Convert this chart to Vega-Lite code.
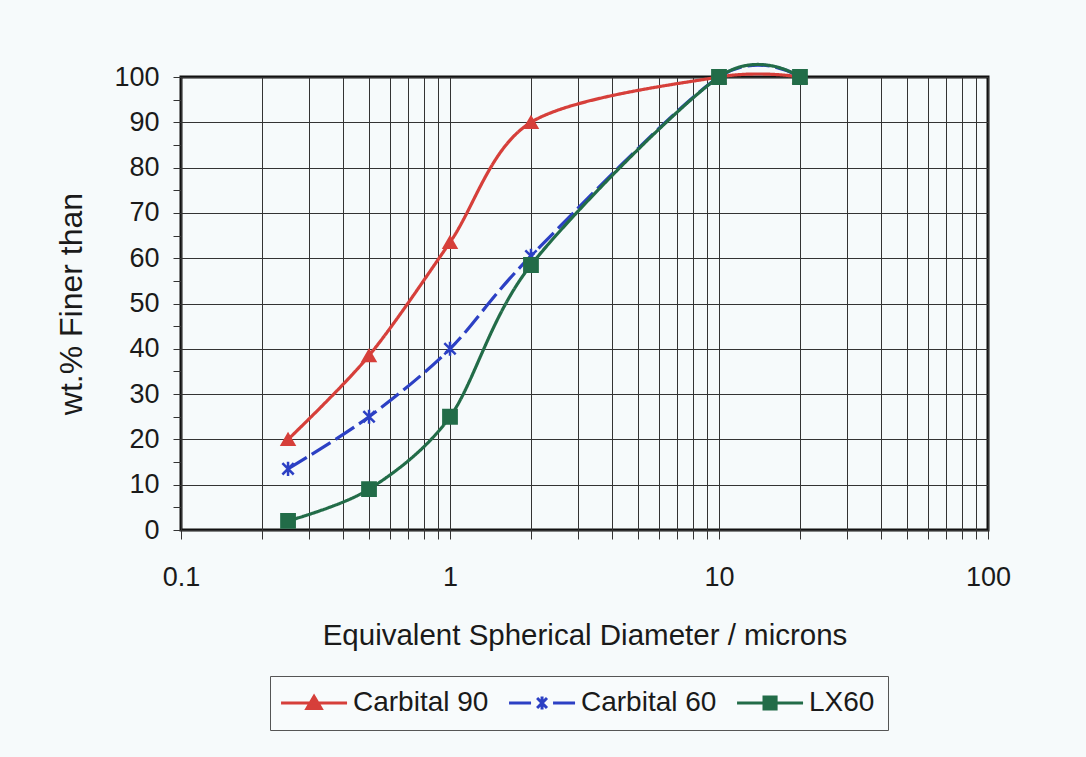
{
  "$schema": "https://vega.github.io/schema/vega-lite/v6.json",
  "width": 807,
  "height": 453,
  "autosize": {"type": "none"},
  "padding": {"left": 181, "top": 77, "right": 98, "bottom": 227},
  "background": "#f6fafb",
  "config": {
    "font": "Liberation Sans",
    "view": {"stroke": "#111111", "strokeWidth": 3},
    "axis": {"labelFont": "Liberation Sans", "titleFont": "Liberation Sans", "labelColor": "#1a1a1a", "titleColor": "#1a1a1a", "titleFontWeight": "normal"}
  },
  "data": {
    "values": [
      {"series": "Carbital 90", "d": 0.25, "pct": 20},
      {"series": "Carbital 90", "d": 0.5, "pct": 38.5},
      {"series": "Carbital 90", "d": 1, "pct": 63.5},
      {"series": "Carbital 90", "d": 2, "pct": 90},
      {"series": "Carbital 90", "d": 10, "pct": 100},
      {"series": "Carbital 90", "d": 20, "pct": 100},
      {"series": "Carbital 60", "d": 0.25, "pct": 13.5},
      {"series": "Carbital 60", "d": 0.5, "pct": 25},
      {"series": "Carbital 60", "d": 1, "pct": 40},
      {"series": "Carbital 60", "d": 2, "pct": 60.5},
      {"series": "Carbital 60", "d": 10, "pct": 100},
      {"series": "Carbital 60", "d": 20, "pct": 100},
      {"series": "LX60", "d": 0.25, "pct": 2},
      {"series": "LX60", "d": 0.5, "pct": 9},
      {"series": "LX60", "d": 1, "pct": 25},
      {"series": "LX60", "d": 2, "pct": 58.5},
      {"series": "LX60", "d": 10, "pct": 100},
      {"series": "LX60", "d": 20, "pct": 100}
    ]
  },
  "encoding": {
    "x": {
      "field": "d",
      "type": "quantitative",
      "scale": {"type": "log", "domain": [0.1, 100]},
      "axis": {
        "values": [0.1, 0.2, 0.3, 0.4, 0.5, 0.6, 0.7, 0.8, 0.9, 1, 2, 3, 4, 5, 6, 7, 8, 9, 10, 20, 30, 40, 50, 60, 70, 80, 90, 100],
        "format": "~g",
        "labelExpr": "indexof(['0.1','1','10','100'], datum.label) >= 0 ? datum.label : ''",
        "labelOverlap": false,
        "labelFlush": false,
        "labelFontSize": 27,
        "labelPadding": 25,
        "labelBaseline": "top",
        "grid": true,
        "gridColor": "#333333",
        "gridWidth": 1,
        "gridOpacity": 1,
        "tickSize": 9,
        "tickColor": "#333333",
        "domain": false,
        "title": "Equivalent Spherical Diameter / microns",
        "titleFontSize": 29.5,
        "titlePadding": 31
      }
    }
  },
  "layer": [
    {
      "mark": {"type": "line", "interpolate": "cardinal", "tension": 0.1, "strokeWidth": 3.2, "clip": false},
      "encoding": {
        "y": {
          "field": "pct",
          "type": "quantitative",
          "scale": {"domain": [0, 100]},
          "axis": {
            "orient": "left",
            "values": [0, 10, 20, 30, 40, 50, 60, 70, 80, 90, 100],
            "grid": true,
            "gridColor": "#333333",
            "gridWidth": 1,
            "gridOpacity": 1,
            "ticks": false,
            "labels": false,
            "domain": false,
            "title": null
          }
        },
        "color": {
          "field": "series",
          "type": "nominal",
          "scale": {"domain": ["Carbital 90", "Carbital 60", "LX60"], "range": ["#d63f3a", "#2c40c4", "#226c48"]},
          "legend": {
            "orient": "none",
            "legendX": 89,
            "legendY": 599,
            "direction": "horizontal",
            "title": null,
            "strokeColor": "#555555",
            "fillColor": "#f8fbfc",
            "padding": 13,
            "labelFontSize": 28,
            "labelFont": "Liberation Sans",
            "labelColor": "#1a1a1a",
            "symbolSize": 484,
            "symbolStrokeWidth": 3,
            "labelOffset": 42,
            "columnPadding": 14,
            "encode": {
              "symbols": {
                "update": {
                  "shape": {"signal": "datum.value === 'Carbital 90' ? 'M-1.45,0L4.55,0M1.55,-0.6L2.2,0.5L0.9,0.5Z' : datum.value === 'Carbital 60' ? 'M-1.45,0L0.55,0M2.55,0L4.55,0M1.1,-0.45L2,0.45M1.1,0.45L2,-0.45M1.55,-0.6L1.55,0.6' : 'M-1.45,0L4.55,0M1,-0.55L2.1,-0.55L2.1,0.55L1,0.55Z'"},
                  "fill": {"signal": "datum.value === 'Carbital 90' ? '#d63f3a' : datum.value === 'Carbital 60' ? 'transparent' : '#226c48'"},
                  "stroke": {"signal": "datum.value === 'Carbital 90' ? '#d63f3a' : datum.value === 'Carbital 60' ? '#2c40c4' : '#226c48'"},
                  "opacity": {"value": 1}
                }
              }
            }
          }
        },
        "strokeDash": {
          "field": "series",
          "type": "nominal",
          "scale": {"domain": ["Carbital 90", "Carbital 60", "LX60"], "range": [[1, 0], [22, 6], [1, 0]]},
          "legend": null
        }
      }
    },
    {
      "transform": [{"filter": "datum.series === 'Carbital 90'"}],
      "mark": {"type": "point", "shape": "triangle-up", "filled": true, "size": 170, "color": "#d63f3a", "stroke": "#d63f3a", "strokeWidth": 2, "opacity": 1, "clip": false},
      "encoding": {
        "y": {
          "field": "pct",
          "type": "quantitative",
          "scale": {"domain": [0, 100]},
          "axis": {
            "orient": "left",
            "values": [0, 5, 10, 15, 20, 25, 30, 35, 40, 45, 50, 55, 60, 65, 70, 75, 80, 85, 90, 95, 100],
            "labelExpr": "datum.value % 10 === 0 ? datum.label : ''",
            "labelOverlap": false,
            "labelFontSize": 27,
            "labelPadding": 14,
            "grid": false,
            "tickSize": 8,
            "tickColor": "#333333",
            "domain": false,
            "title": "wt.% Finer than",
            "titleFontSize": 32,
            "titlePadding": 25
          }
        }
      }
    },
    {
      "transform": [{"filter": "datum.series === 'Carbital 60'"}],
      "mark": {"type": "point", "shape": "M-0.8,-0.8L0.8,0.8M-0.8,0.8L0.8,-0.8M0,-1L0,1", "filled": false, "size": 200, "stroke": "#2c40c4", "strokeWidth": 2.5, "opacity": 1, "clip": false},
      "encoding": {
        "y": {"field": "pct", "type": "quantitative", "scale": {"domain": [0, 100]}, "axis": null}
      }
    },
    {
      "transform": [{"filter": "datum.series === 'LX60'"}],
      "mark": {"type": "point", "shape": "square", "filled": true, "size": 190, "color": "#226c48", "stroke": "#226c48", "strokeWidth": 2, "opacity": 1, "clip": false},
      "encoding": {
        "y": {"field": "pct", "type": "quantitative", "scale": {"domain": [0, 100]}, "axis": null}
      }
    }
  ],
  "resolve": {"axis": {"y": "independent"}}
}
